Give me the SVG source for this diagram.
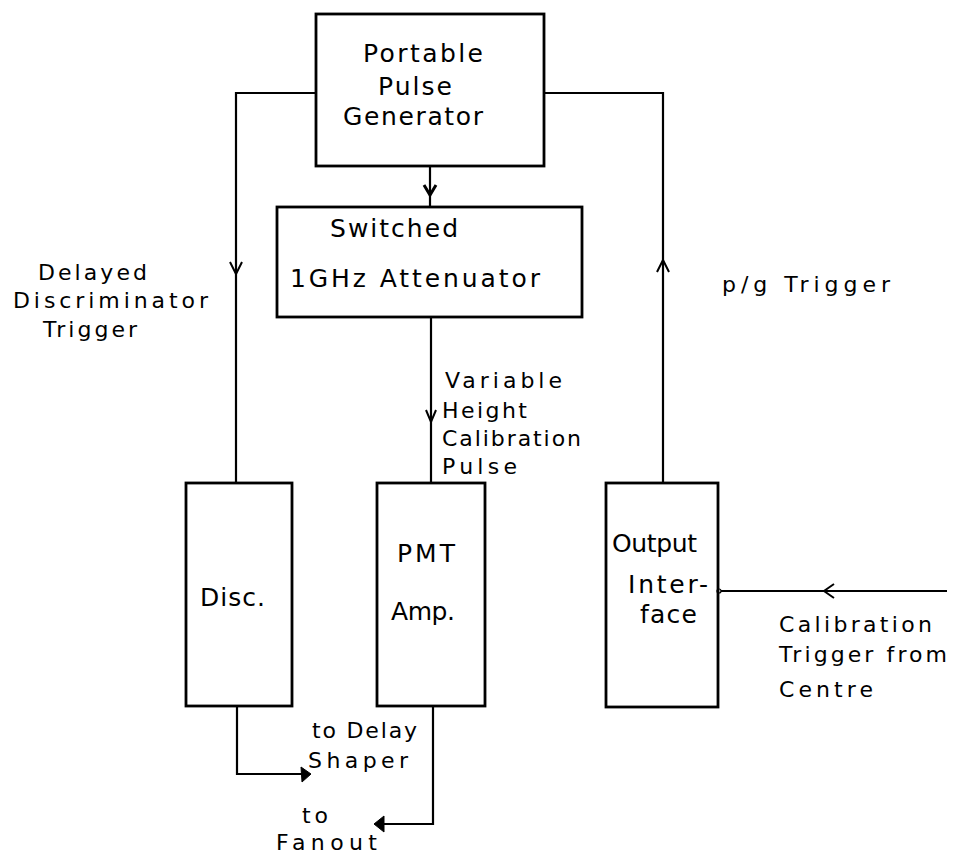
<svg xmlns="http://www.w3.org/2000/svg" width="956" height="859" viewBox="0 0 956 859">
<style>
.box{fill:none;stroke:#000;stroke-width:2.8}
.ln{fill:none;stroke:#000;stroke-width:2.2}
.chev{fill:none;stroke:#000;stroke-width:2;stroke-linejoin:miter}
.tri{fill:#000;stroke:#000;stroke-width:1}
text{font-family:"DejaVu Sans","Liberation Sans",sans-serif;font-size:25px;fill:#000}
.lbl{font-size:22px}
</style>
<rect width="956" height="859" fill="#fff"/>
<g id="connectors">
  <polyline class="ln" points="316,93 236,93 236,483"/>
  <polyline class="chev" points="230,262 236,274 242,262"/>
  <polyline class="ln" points="544,93 663,93 663,483"/>
  <polyline class="chev" points="657,272 663,260 669,272"/>
  <line class="ln" x1="430" y1="166" x2="430" y2="207"/>
  <polyline class="chev" points="424,185 430,195 436,185" style="stroke-width:3"/>
  <line class="ln" x1="431" y1="317" x2="431" y2="483"/>
  <polyline class="chev" points="426,410 431,422 436,410"/>
  <line class="ln" x1="718" y1="591" x2="947" y2="591"/>
  <polyline class="chev" points="834,584 824,591 834,598"/>
  <circle cx="719" cy="591" r="2" fill="#fff" stroke="#000" stroke-width="1.2"/>
  <polyline class="ln" points="237,706 237,774 302,774"/>
  <polygon class="tri" points="311,774 301,767 302,782"/>
  <polyline class="ln" points="433,706 433,824 382,824"/>
  <polygon class="tri" points="374,824 384,816 384,832"/>
</g>
<g id="portable">
  <rect class="box" x="316" y="14" width="228" height="152"/>
  <text x="363" y="62" textLength="120" lengthAdjust="spacing">Portable</text>
  <text x="378" y="95" textLength="74" lengthAdjust="spacing">Pulse</text>
  <text x="343" y="125" textLength="140" lengthAdjust="spacing">Generator</text>
</g>
<g id="attenuator">
  <rect class="box" x="277" y="207" width="305" height="110"/>
  <text x="330" y="237" textLength="128" lengthAdjust="spacing">Switched</text>
  <text x="290" y="287" textLength="250" lengthAdjust="spacing">1GHz Attenuator</text>
</g>
<g id="disc">
  <rect class="box" x="186" y="483" width="106" height="223"/>
  <text x="200" y="606" textLength="65" lengthAdjust="spacing">Disc.</text>
</g>
<g id="pmt">
  <rect class="box" x="377" y="483" width="108" height="223"/>
  <text x="397" y="562" textLength="58" lengthAdjust="spacing">PMT</text>
  <text x="391" y="620" textLength="64" lengthAdjust="spacing">Amp.</text>
</g>
<g id="output">
  <rect class="box" x="606" y="483" width="112" height="224"/>
  <text x="612" y="552" textLength="85" lengthAdjust="spacing">Output</text>
  <text x="628" y="593" textLength="80" lengthAdjust="spacing">Inter-</text>
  <text x="640" y="623" textLength="57" lengthAdjust="spacing">face</text>
</g>
<g id="labels">
  <text class="lbl" x="38" y="280" textLength="109" lengthAdjust="spacing">Delayed</text>
  <text class="lbl" x="13" y="308" textLength="195" lengthAdjust="spacing">Discriminator</text>
  <text class="lbl" x="43" y="337" textLength="94" lengthAdjust="spacing">Trigger</text>
  <text class="lbl" x="722" y="292" textLength="168" lengthAdjust="spacing">p/g  Trigger</text>
  <text class="lbl" x="445" y="388" textLength="117" lengthAdjust="spacing">Variable</text>
  <text class="lbl" x="442" y="418" textLength="85" lengthAdjust="spacing">Height</text>
  <text class="lbl" x="442" y="446" textLength="139" lengthAdjust="spacing">Calibration</text>
  <text class="lbl" x="442" y="474" textLength="75" lengthAdjust="spacing">Pulse</text>
  <text class="lbl" x="779" y="632" textLength="153" lengthAdjust="spacing">Calibration</text>
  <text class="lbl" x="779" y="662" textLength="168" lengthAdjust="spacing">Trigger from</text>
  <text class="lbl" x="779" y="697" textLength="94" lengthAdjust="spacing">Centre</text>
  <text class="lbl" x="312" y="738" textLength="105" lengthAdjust="spacing">to Delay</text>
  <text class="lbl" x="308" y="768" textLength="100" lengthAdjust="spacing">Shaper</text>
  <text class="lbl" x="302" y="823" textLength="26" lengthAdjust="spacing">to</text>
  <text class="lbl" x="276" y="850" textLength="101" lengthAdjust="spacing">Fanout</text>
</g>
</svg>
